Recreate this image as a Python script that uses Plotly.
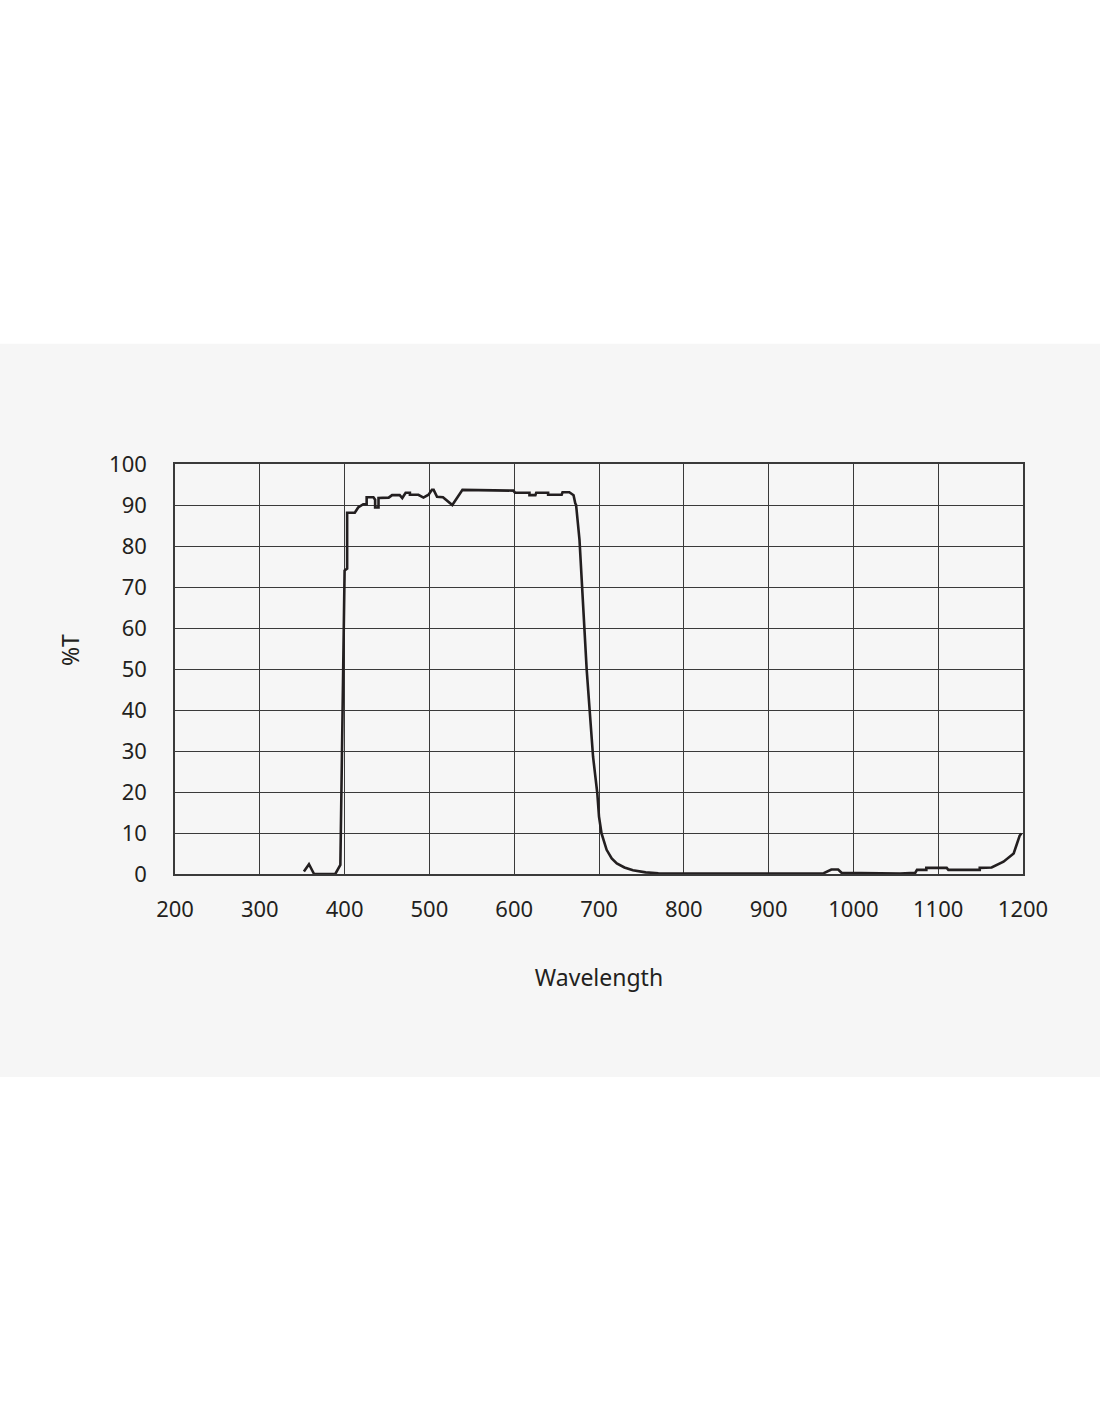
import plotly.graph_objects as go

# transmission curve
wavelength = [352, 358, 364, 389, 395, 400, 403, 403, 412, 416, 422, 426, 426, 434, 436, 436,
              440, 440, 452, 456, 465, 468, 472, 477, 477, 487, 493, 499, 503, 505, 509, 516,
              527, 539, 599, 601, 618, 618, 625, 626, 640, 640, 656, 657, 665, 670, 672, 673,
              677, 685.5, 693, 698, 700, 703, 709, 715, 721, 730, 740, 755, 770, 800, 900, 965,
              974, 982, 986, 1055, 1073, 1075, 1086, 1086, 1110, 1112, 1149, 1149, 1163, 1177,
              1189, 1193, 1196, 1198]
transmission = [0.6, 2.4, 0.0, 0.0, 2.2, 74.0, 74.5, 88.1, 88.1, 89.4, 90.2, 90.2, 91.9, 91.9, 91.3, 89.4,
                89.4, 91.7, 91.8, 92.4, 92.4, 91.7, 93.0, 93.0, 92.5, 92.5, 91.8, 92.5, 93.7, 93.7, 92.0, 91.9,
                90.0, 93.7, 93.5, 93.0, 93.0, 92.4, 92.4, 93.0, 93.0, 92.5, 92.5, 93.1, 93.1, 92.4, 90.4, 90.0,
                81.5, 49.8, 28.6, 19.7, 14.0, 9.9, 5.9, 3.8, 2.6, 1.6, 0.9, 0.4, 0.2, 0.1, 0.1, 0.2,
                1.1, 1.1, 0.3, 0.1, 0.3, 1.0, 1.0, 1.5, 1.5, 1.0, 1.0, 1.5, 1.6, 3.0,
                5.0, 7.5, 9.3, 9.9]

x_ticks = [200, 300, 400, 500, 600, 700, 800, 900, 1000, 1100, 1200]
y_ticks = [0, 10, 20, 30, 40, 50, 60, 70, 80, 90, 100]

ink = "#231f20"
band = "#f6f6f6"

fig = go.Figure(go.Scatter(x=wavelength, y=transmission, mode="lines",
                           line=dict(color=ink, width=2.6, shape="linear"), hoverinfo="skip"))

fig.update_layout(
    width=1100, height=1422,
    margin=dict(l=175, r=77, t=464, b=548),
    paper_bgcolor="white", plot_bgcolor=band,
    showlegend=False,
    font=dict(family="Noto Sans", size=22, color=ink),
    shapes=[dict(type="rect", xref="paper", yref="paper", layer="below",
                 x0=-0.21, x1=1.1, y0=-0.495, y1=1.293,
                 fillcolor=band, line=dict(width=0))],
    annotations=[dict(text="%T", xref="paper", yref="paper", x=-0.124, xanchor="center",
                      y=0.546, yanchor="middle",
                      textangle=-90, showarrow=False, font=dict(size=23))],
)

fig.update_xaxes(range=[200, 1200], tickvals=x_ticks, showgrid=True, gridcolor="#3a3a3a", gridwidth=1.3,
                 showline=True, linecolor="#3a3a3a", linewidth=1.5, mirror=True, zeroline=False,
                 ticks="", ticklabelstandoff=15,
                 title=dict(text="Wavelength", standoff=48, font=dict(size=23)))
fig.update_yaxes(range=[0, 100], tickvals=y_ticks, showgrid=True, gridcolor="#3a3a3a", gridwidth=1.3,
                 showline=True, linecolor="#3a3a3a", linewidth=1.5, mirror=True, zeroline=False,
                 ticks="", ticklabelstandoff=22)

fig.write_html("out.html", config={"displayModeBar": False},
               post_script="document.body.style.margin='0px';")
